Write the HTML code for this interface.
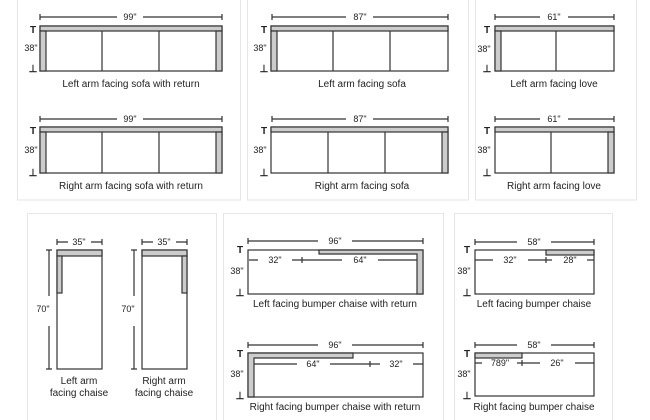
<!DOCTYPE html>
<html><head><meta charset="utf-8"><style>
html,body{margin:0;padding:0;background:#fff;}
svg{display:block;font-family:"Liberation Sans",sans-serif;}
</style></head><body>
<svg width="650" height="420" viewBox="0 0 650 420" xmlns="http://www.w3.org/2000/svg">
<g fill="none" stroke="#e6e6e6" stroke-width="1">
<rect x="17.5" y="-2" width="223" height="202"/>
<rect x="247.5" y="-2" width="221" height="202"/>
<rect x="475.5" y="-2" width="161" height="202"/>
<rect x="27.5" y="213.5" width="189" height="210"/>
<rect x="223.5" y="213.5" width="220" height="210"/>
<rect x="454.5" y="213.5" width="158" height="210"/>
</g>
<g stroke="#333" stroke-width="1.2" fill="none">
<path d="M40 17H117M143 17H222M40 14V20M222 14V20"/>
<rect x="40" y="26" width="182" height="45" fill="#fff"/>
<rect x="40" y="26" width="182" height="5" fill="#ccc"/>
<rect x="40" y="31" width="6" height="40" fill="#ccc"/>
<rect x="216" y="31" width="6" height="40" fill="#ccc"/>
<path d="M102 31V71M159 31V71"/>
<path d="M40 119H117M143 119H222M40 116V122M222 116V122"/>
<rect x="40" y="127" width="182" height="46" fill="#fff"/>
<rect x="40" y="127" width="182" height="5" fill="#ccc"/>
<rect x="40" y="132" width="6" height="41" fill="#ccc"/>
<rect x="216" y="132" width="6" height="41" fill="#ccc"/>
<path d="M102 132V173M159 132V173"/>
<path d="M272 17H346M373 17H448M272 14V20M448 14V20"/>
<rect x="271" y="26" width="177" height="45" fill="#fff"/>
<rect x="271" y="26" width="177" height="5" fill="#ccc"/>
<rect x="271" y="31" width="6" height="40" fill="#ccc"/>
<path d="M333 31V71M390 31V71"/>
<path d="M272 119H346M373 119H448M272 116V122M448 116V122"/>
<rect x="271" y="127" width="177" height="46" fill="#fff"/>
<rect x="271" y="127" width="177" height="5" fill="#ccc"/>
<rect x="442" y="132" width="6" height="41" fill="#ccc"/>
<path d="M328 132V173M385 132V173"/>
<path d="M495 17H540M568 17H614M495 14V20M614 14V20"/>
<rect x="495" y="26" width="119" height="45" fill="#fff"/>
<rect x="495" y="26" width="119" height="5" fill="#ccc"/>
<rect x="495" y="31" width="6" height="40" fill="#ccc"/>
<path d="M556 31V71"/>
<path d="M495 119H540M568 119H614M495 116V122M614 116V122"/>
<rect x="495" y="127" width="119" height="46" fill="#fff"/>
<rect x="495" y="127" width="119" height="5" fill="#ccc"/>
<rect x="608" y="132" width="6" height="41" fill="#ccc"/>
<path d="M551 132V173"/>
<path d="M57 242H68M91 242H102M57 239V245M102 239V245"/>
<path d="M49 250V296M49 326V369M46 250H52M46 369H52"/>
<rect x="57" y="250" width="45" height="119" fill="#fff"/>
<rect x="57" y="250" width="45" height="6" fill="#ccc"/>
<rect x="57" y="256" width="5" height="37" fill="#ccc"/>
<path d="M142 242H153M176 242H187M142 239V245M187 239V245"/>
<path d="M134 250V296M134 326V369M131 250H137M131 369H137"/>
<rect x="142" y="250" width="45" height="119" fill="#fff"/>
<rect x="142" y="250" width="45" height="6" fill="#ccc"/>
<rect x="182" y="256" width="5" height="37" fill="#ccc"/>
<path d="M248 241H318M352 241H423M248 238V244M423 238V244"/>
<rect x="248" y="250" width="175" height="44" fill="#fff"/>
<path d="M319 250H423V294H417V254H319Z" fill="#ccc"/>
<path d="M249 260H258M292 260H342M302 257V263M378 260H417"/>
<path d="M248 345H318M352 345H423M248 342V348M423 342V348"/>
<rect x="248" y="353" width="175" height="44" fill="#fff"/>
<path d="M248 353H353V358H254V397H248Z" fill="#ccc"/>
<path d="M254 364H297M330 364H380M370 361V367M413 364H423"/>
<path d="M475 242H517M551 242H594M475 239V245M594 239V245"/>
<rect x="475" y="250" width="119" height="44" fill="#fff"/>
<rect x="546" y="250" width="48" height="5" fill="#ccc"/>
<path d="M475 260H493M528 260H552M546 257V263M587 260H594"/>
<path d="M475 345H517M551 345H594M475 342V348M594 342V348"/>
<rect x="475" y="353" width="119" height="43" fill="#fff"/>
<rect x="475" y="353" width="47" height="5" fill="#ccc"/>
<path d="M475 363H482M517 363H540M522 360V366M575 363H594"/>
</g>
<g font-size="9" fill="#222" text-anchor="middle">
<text x="130" y="20">99"</text><text x="130" y="122">99"</text>
<text x="360" y="20">87"</text><text x="360" y="122">87"</text>
<text x="554" y="20">61"</text><text x="554" y="122">61"</text>
<text x="79" y="245">35"</text><text x="164" y="245">35"</text>
<text x="335" y="244">96"</text><text x="335" y="348">96"</text>
<text x="534" y="245">58"</text><text x="534" y="348">58"</text>
<text x="275" y="263">32"</text><text x="360" y="263">64"</text>
<text x="313" y="367">64"</text><text x="396" y="367">32"</text>
<text x="510" y="263">32"</text><text x="570" y="263">28"</text>
<text x="500" y="366">789"</text><text x="557" y="366">26"</text>
<text x="31" y="51">38"</text><text x="31" y="153">38"</text>
<text x="260" y="51">38"</text><text x="260" y="153">38"</text>
<text x="484" y="52">38"</text><text x="484" y="153">38"</text>
<text x="237" y="274">38"</text><text x="237" y="377">38"</text>
<text x="464" y="274">38"</text><text x="464" y="377">38"</text>
<text x="43" y="312">70"</text><text x="128" y="312">70"</text>
</g>
<g font-size="10" font-weight="bold" fill="#222" text-anchor="middle">
<text x="33" y="33">T</text><text x="33" y="72">⊥</text>
<text x="33" y="134">T</text><text x="33" y="176">⊥</text>
<text x="264" y="33">T</text><text x="264" y="72">⊥</text>
<text x="264" y="134">T</text><text x="264" y="176">⊥</text>
<text x="487" y="33">T</text><text x="487" y="72">⊥</text>
<text x="487" y="134">T</text><text x="487" y="176">⊥</text>
<text x="240" y="253">T</text><text x="240" y="296">⊥</text>
<text x="240" y="357">T</text><text x="240" y="399">⊥</text>
<text x="467" y="253">T</text><text x="467" y="296">⊥</text>
<text x="467" y="357">T</text><text x="467" y="399">⊥</text>
</g>
<g font-size="10" fill="#222" text-anchor="middle">
<text x="131" y="87">Left arm facing sofa with return</text>
<text x="131" y="189">Right arm facing sofa with return</text>
<text x="362" y="87">Left arm facing sofa</text>
<text x="362" y="189">Right arm facing sofa</text>
<text x="554" y="87">Left arm facing love</text>
<text x="554" y="189">Right arm facing love</text>
<text x="79" y="384">Left arm</text><text x="79" y="396">facing chaise</text>
<text x="164" y="384">Right arm</text><text x="164" y="396">facing chaise</text>
<text x="335" y="307">Left facing bumper chaise with return</text>
<text x="335" y="410">Right facing bumper chaise with return</text>
<text x="534" y="307">Left facing bumper chaise</text>
<text x="534" y="410">Right facing bumper chaise</text>
</g>
</svg>
</body></html>
